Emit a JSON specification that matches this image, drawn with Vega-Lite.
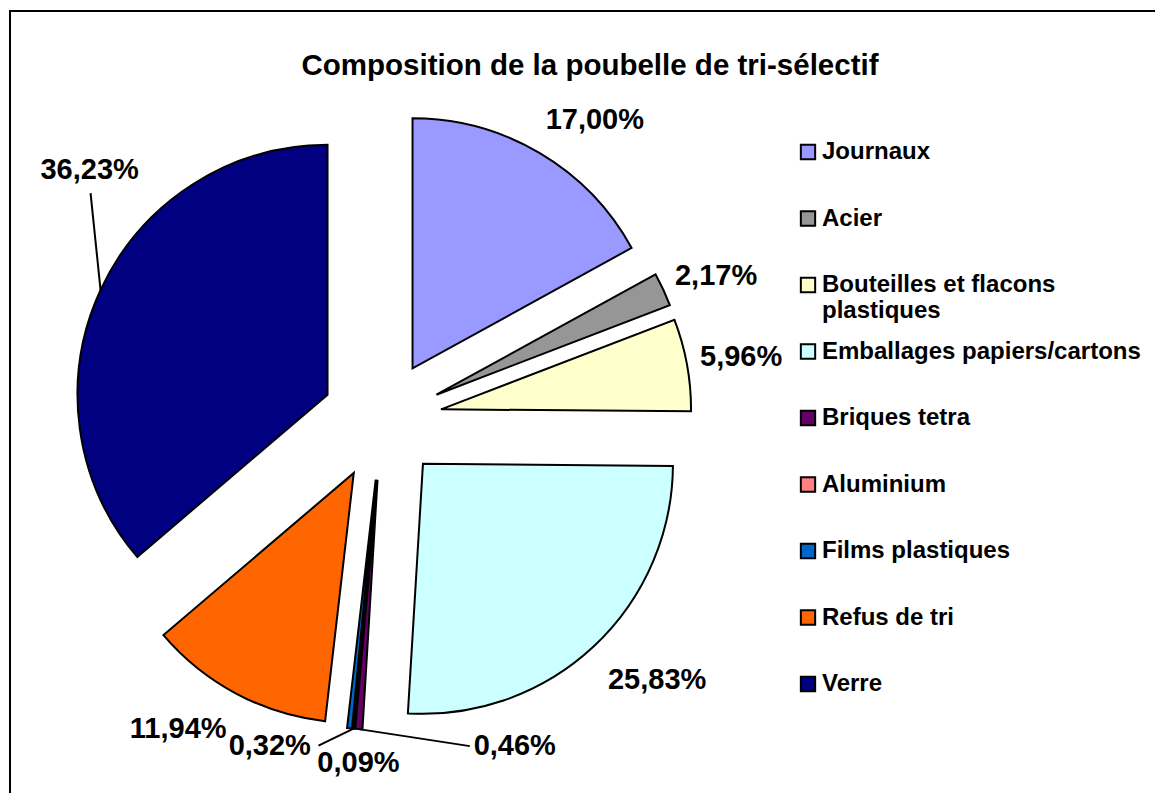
{
  "$schema": "https://vega.github.io/schema/vega-lite/v6.json",
  "width": 1150,
  "height": 790,
  "autosize": "none",
  "padding": {"left": 10, "top": 11, "right": 0, "bottom": 0},
  "background": "white",
  "view": {"stroke": "black", "strokeWidth": 2, "fill": "white"},
  "title": {
    "text": "Composition de la poubelle de tri-sélectif",
    "font": "Liberation Sans",
    "fontSize": 29.5,
    "fontWeight": "bold",
    "color": "black",
    "anchor": "middle",
    "frame": "group",
    "offset": 0,
    "baseline": "alphabetic",
    "dy": 93,
    "dx": 5
  },
  "config": {
    "view": {"stroke": "black", "strokeWidth": 2},
    "font": "Liberation Sans"
  },
  "data": {
    "values": [
      {"category": "Journaux", "pct": 17.00, "idx": 1},
      {"category": "Acier", "pct": 2.17, "idx": 2},
      {"category": "Bouteilles et flacons plastiques", "pct": 5.96, "idx": 3},
      {"category": "Emballages papiers/cartons", "pct": 25.83, "idx": 4},
      {"category": "Briques tetra", "pct": 0.46, "idx": 5},
      {"category": "Aluminium", "pct": 0.09, "idx": 6},
      {"category": "Films plastiques", "pct": 0.32, "idx": 7},
      {"category": "Refus de tri", "pct": 11.94, "idx": 8},
      {"category": "Verre", "pct": 36.23, "idx": 9}
    ]
  },
  "layer": [
    {
      "mark": {
        "type": "arc",
        "radius": 250,
        "x": {"expr": "372 + 60*sin(PI*(datum.pct_start+datum.pct_end)/100)"},
        "y": {"expr": "409 - 60*cos(PI*(datum.pct_start+datum.pct_end)/100)"},
        "stroke": "black",
        "strokeWidth": 2,
        "opacity": 1
      },
      "encoding": {
        "theta": {"field": "pct", "type": "quantitative", "stack": true},
        "order": {"field": "idx", "type": "quantitative"},
        "color": {
          "field": "category",
          "type": "nominal",
          "scale": {
            "domain": ["Journaux", "Acier", "Bouteilles et flacons plastiques", "Emballages papiers/cartons", "Briques tetra", "Aluminium", "Films plastiques", "Refus de tri", "Verre"],
            "range": ["#9999FF", "#969696", "#FFFFCC", "#CCFFFF", "#660066", "#FF8080", "#0066CC", "#FF6600", "#000080"]
          },
          "legend": {
            "title": null,
            "orient": "none",
            "legendX": 786,
            "legendY": 130,
            "labelFont": "Liberation Sans",
            "labelFontSize": 24,
            "labelFontWeight": "bold",
            "labelColor": "black",
            "labelLimit": 500,
            "labelOffset": 2,
            "symbolType": "square",
            "symbolSize": 205,
            "symbolStrokeColor": "black",
            "symbolStrokeWidth": 2,
            "symbolOpacity": 1,
            "rowPadding": 16.5,
            "clipHeight": 22,
            "labelExpr": "datum.label == 'Bouteilles et flacons plastiques' ? ['Bouteilles et flacons', 'plastiques'] : [datum.label, ' ']"
          }
        }
      }
    },
    {
      "transform": [
        {"stack": "pct", "groupby": [], "sort": [{"field": "idx", "order": "ascending"}], "as": ["s0", "s1"]},
        {"filter": {"field": "category", "oneOf": ["Verre", "Briques tetra", "Aluminium"]}}
      ],
      "mark": {"type": "rule", "color": "black", "strokeWidth": 2},
      "encoding": {
        "x": {"value": {"expr": "372 + 310*sin(PI*(datum.s0+datum.s1)/100)"}},
        "y": {"value": {"expr": "409 - 310*cos(PI*(datum.s0+datum.s1)/100)"}},
        "x2": {"value": {"expr": "372 + 310*sin(PI*(datum.s0+datum.s1)/100) + ({'Verre': -10, 'Briques tetra': 111, 'Aluminium': -35})[datum.category]"}},
        "y2": {"value": {"expr": "409 - 310*cos(PI*(datum.s0+datum.s1)/100) + ({'Verre': -97, 'Briques tetra': 17, 'Aluminium': 17})[datum.category]"}}
      }
    },
    {
      "mark": {
        "type": "text",
        "radius": 365,
        "x": 372,
        "y": 409,
        "font": "Liberation Sans",
        "fontSize": 29,
        "fontWeight": "bold",
        "align": "center",
        "baseline": "middle",
        "color": "black",
        "text": {"expr": "replace(format(datum.pct, '.2f'), '.', ',') + '%'"},
        "dx": {"expr": "({'Journaux': 27, 'Acier': 3, 'Bouteilles et flacons plastiques': 0, 'Emballages papiers/cartons': 26, 'Briques tetra': 160, 'Aluminium': 10, 'Films plastiques': -74, 'Refus de tri': -32, 'Verre': 39})[datum.category]"},
        "dy": {"expr": "({'Journaux': 14, 'Acier': 10, 'Bouteilles et flacons plastiques': 2, 'Emballages papiers/cartons': -7, 'Briques tetra': -38, 'Aluminium': -20, 'Films plastiques': -37, 'Refus de tri': -13, 'Verre': -97})[datum.category]"}
      },
      "encoding": {
        "theta": {"field": "pct", "type": "quantitative", "stack": true},
        "order": {"field": "idx", "type": "quantitative"}
      }
    }
  ]
}
